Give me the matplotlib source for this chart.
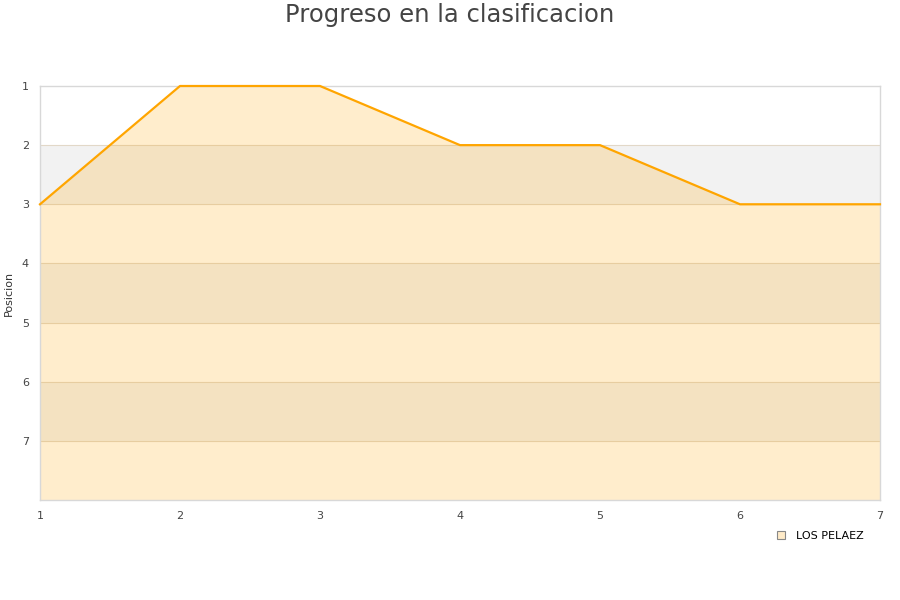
import matplotlib
matplotlib.use("Agg")
import matplotlib.pyplot as plt
from matplotlib.lines import Line2D

jornadas = [1, 2, 3, 4, 5, 6, 7]
posiciones = [3, 1, 1, 2, 2, 3, 3]
equipo = "LOS PELAEZ"
yticks = [1, 2, 3, 4, 5, 6, 7]

fig = plt.figure(figsize=(9, 6), dpi=100)
ax = fig.add_axes([40/900, 100/600, 840/900, 414/600])

ax.set_xlim(1, 7)
ax.set_ylim(8, 1)

# alternating bands
for k in range(1, 8):
    if k % 2 == 0:
        ax.axhspan(k, k + 1, color="#f2f2f2", zorder=0, lw=0)

for k in range(2, 8):
    ax.axhline(k, color="#e2d8c8", lw=0.8, zorder=1)

ax.fill_between(jornadas, posiciones, 8, color="#ffa500", alpha=0.2, lw=0, zorder=2)
ax.plot(jornadas, posiciones, color="#ffa500", lw=1.6, zorder=3, clip_on=False)

ax.set_yticks(yticks)
ax.set_xticks(jornadas)
ax.tick_params(axis="both", length=0, labelsize=8, colors="#444444")
ax.tick_params(axis="y", pad=8)
ax.tick_params(axis="x", pad=8)
for s in ax.spines.values():
    s.set_color("#d8d8d8")
    s.set_linewidth(1)

ax.set_ylabel("Posicion", fontsize=8, color="#333333", labelpad=6)

fig.text(0.5, 1 - 15/600, "Progreso en la clasificacion", ha="center", va="center",
         fontsize=17.5, color="#444444")

handle = Line2D([], [], marker="s", linestyle="none", markersize=6,
                markerfacecolor="#ffebc8", markeredgecolor="#888888", markeredgewidth=0.8)
fig.legend([handle], [equipo], loc="center", bbox_to_anchor=(817/900, 1 - 536/600),
           frameon=False, fontsize=8, handletextpad=0.4)

fig.savefig("out.png", dpi=100)
